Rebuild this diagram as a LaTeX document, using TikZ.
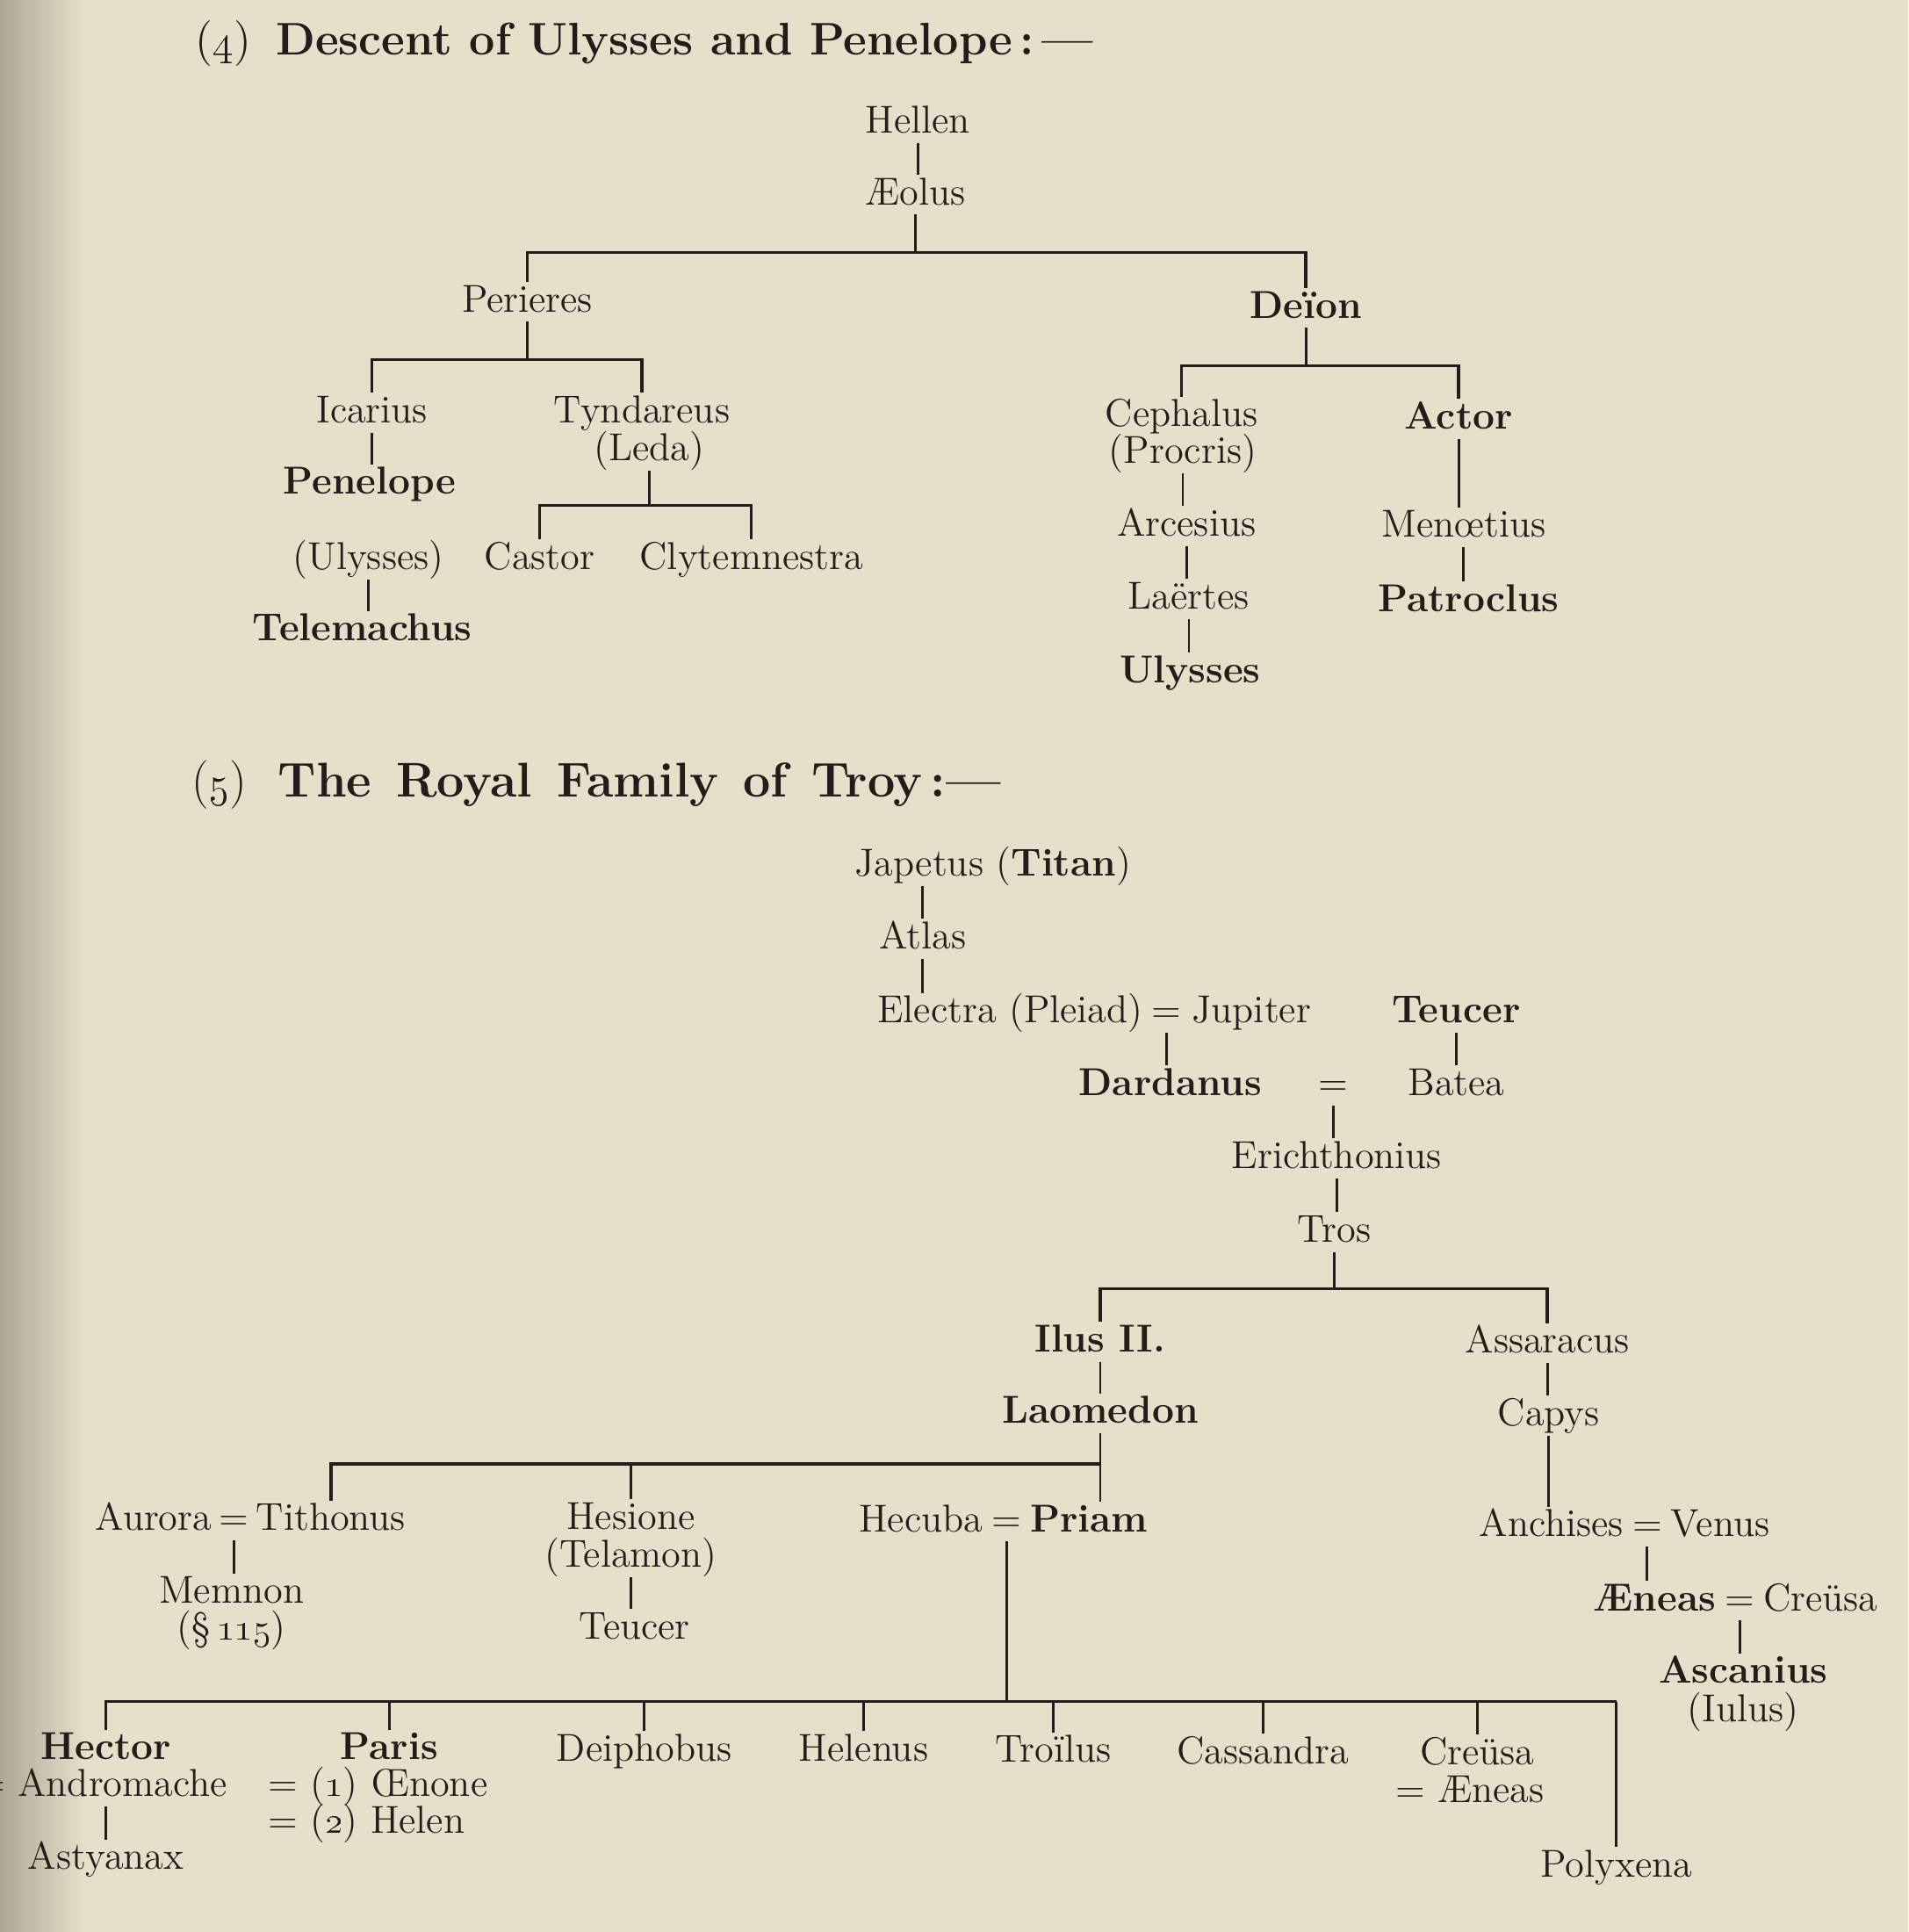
\documentclass[tikz,border=0pt]{standalone}
\usetikzlibrary{positioning}
\definecolor{paper}{RGB}{231,223,201}
\definecolor{ink}{RGB}{34,29,26}

\begin{document}
\begin{tikzpicture}[
  x=0.14029mm, y=-0.14029mm,
  every node/.style={font=\fontsize{12.6pt}{14pt}\selectfont, text=ink},
  person/.style={inner xsep=0pt, inner ysep=0.5pt, text height=9pt, text depth=2.5pt},
  chief/.style={person, font=\fontsize{12.6pt}{14pt}\selectfont\bfseries},
  wed/.style={person},
  heading/.style={anchor=west, inner sep=0pt, font=\fontsize{14.8pt}{16pt}\selectfont},
  kin/.style={draw=ink, line width=0.8pt},
  bar/.style={draw=ink, line width=1pt}
]
  % page
  \fill[paper] (0,0) rectangle (1549,1568);
  \shade[left color=black!25!paper, right color=paper] (0,0) rectangle (70,1568);
  \useasboundingbox (0,0) rectangle (1549,1568);

  % (4) Descent of Ulysses and Penelope
  \node[heading] (t4) at (158,35) {(\oldstylenums{4})\hspace{8pt}\textbf{Descent of Ulysses and Penelope\,:\,—}};

  \node[person] (hellen) at (745,100) {Hellen};
  \node[person] (aeolus) at (743,158) {Æolus};
  \node[person] (perieres) at (428,245) {Perieres};
  \node[chief] (deion) at (1060,250) {Deïon};

  \node[person] (icarius) at (302,335) {Icarius};
  \node[chief] (penelope) at (300,393) {Penelope};
  \node[person] (ulyssesp) at (299,454) {(Ulysses)};
  \node[chief] (telemachus) at (294,512) {Telemachus};
  \node[person] (tyndareus) at (521,335) {Tyndareus};
  \node[person] (leda) at (527,366) {(Leda)};
  \node[person] (castor) at (438,454) {Castor};
  \node[person] (clytemnestra) at (610,454) {Clytemnestra};

  \node[person] (cephalus) at (959,338) {Cephalus};
  \node[person] (procris) at (960,368) {(Procris)};
  \node[person] (arcesius) at (963,427) {Arcesius};
  \node[person] (laertes) at (965,486) {Laërtes};
  \node[chief] (ulysses) at (966,546) {Ulysses};
  \node[chief] (actor) at (1184,340) {Actor};
  \node[person] (menoetius) at (1188,428) {Menœtius};
  \node[chief] (patroclus) at (1192,488) {Patroclus};

  \coordinate (b41) at (0,205);
  \coordinate (b42) at (0,292);
  \coordinate (b43) at (0,410);
  \coordinate (b44) at (0,297);

  \draw[kin] (hellen.south) -- (hellen.south |- aeolus.north);
  \draw[kin] (aeolus.south) -- (aeolus.south |- b41);
  \draw[bar] (perieres.north) -- (perieres.north |- b41) -- (deion.north |- b41) -- (deion.north);
  \draw[kin] (perieres.south) -- (perieres.south |- b42);
  \draw[bar] (icarius.north) -- (icarius.north |- b42) -- (tyndareus.north |- b42) -- (tyndareus.north);
  \draw[kin] (icarius.south) -- (icarius.south |- penelope.north);
  \draw[kin] (ulyssesp.south) -- (ulyssesp.south |- telemachus.north);
  \draw[kin] (leda.south) -- (leda.south |- b43);
  \draw[kin] (castor.north) -- (castor.north |- b43) -- (clytemnestra.north |- b43) -- (clytemnestra.north);
  \draw[kin] (deion.south) -- (deion.south |- b44);
  \draw[bar] (cephalus.north) -- (cephalus.north |- b44) -- (actor.north |- b44) -- (actor.north);
  \draw[kin] (procris.south) -- (procris.south |- arcesius.north);
  \draw[kin] (arcesius.south) -- (arcesius.south |- laertes.north);
  \draw[kin] (laertes.south) -- (laertes.south |- ulysses.north);
  \draw[kin] (actor.south) -- (actor.south |- menoetius.north);
  \draw[kin] (menoetius.south) -- (menoetius.south |- patroclus.north);

  % (5) The Royal Family of Troy
  \node[heading, font=\fontsize{15.8pt}{17pt}\selectfont] (t5) at (155,637)
    {(\oldstylenums{5})\hspace{10pt}\textbf{\spaceskip=0.5em\relax The Royal Family of Troy\,:—}};

  \node[person] (japetus) at (806,703) {Japetus (\textbf{Titan})};
  \node[person] (atlas) at (749,762) {Atlas};
  \node[wed] (ej) at (947,822) {=};
  \node[person, left=2.5pt of ej] (electra) {Electra (Pleiad)};
  \node[person, right=3pt of ej] (jupiter) {Jupiter};
  \node[chief] (teucer) at (1182,822) {Teucer};
  \node[chief] (dardanus) at (950,881) {Dardanus};
  \node[wed] (db) at (1082,881) {=};
  \node[person] (batea) at (1182,881) {Batea};
  \node[person] (erichthonius) at (1085,940) {Erichthonius};
  \node[person] (tros) at (1083,1000) {Tros};
  \node[chief] (ilus) at (893,1089) {Ilus II.};
  \node[chief] (laomedon) at (893,1147) {Laomedon};
  \node[person] (assaracus) at (1256,1090) {Assaracus};
  \node[person] (capys) at (1257,1149) {Capys};

  \node[wed] (at) at (190,1234) {=};
  \node[person, left=2pt of at] (aurora) {Aurora};
  \node[person, right=2pt of at] (tithonus) {Tithonus};
  \node[person] (memnon) at (188,1293) {Memnon};
  \node[person] (s115) at (188,1323) {(§\,\oldstylenums{115})};
  \node[person] (hesione) at (512,1233) {Hesione};
  \node[person] (telamon) at (512,1264) {(Telamon)};
  \node[person] (teucerb) at (515,1322) {Teucer};
  \node[wed] (hp) at (817,1235) {=};
  \node[person, left=2.5pt of hp] (hecuba) {Hecuba};
  \node[chief, right=2.5pt of hp] (priam) {Priam};

  \node[wed] (av) at (1337,1239) {=};
  \node[person, left=2.5pt of av] (anchises) {Anchises};
  \node[person, right=2.5pt of av] (venus) {Venus};
  \node[wed] (ac) at (1412,1299) {=};
  \node[chief, left=2.5pt of ac] (aeneas) {Æneas};
  \node[person, right=2.5pt of ac] (creusa) {Creüsa};
  \node[chief] (ascanius) at (1415,1358) {Ascanius};
  \node[person] (iulus) at (1415,1389) {(Iulus)};

  \node[chief] (hector) at (86,1420) {Hector};
  \node[person, anchor=east] (andromache) at (185,1450) {= Andromache};
  \node[person] (astyanax) at (86,1509) {Astyanax};
  \node[chief] (paris) at (316,1420) {Paris};
  \node[person, anchor=west] (oenone) at (217,1450) {= (\oldstylenums{1}) Œnone};
  \node[person, anchor=west] (helen) at (217,1480) {= (\oldstylenums{2}) Helen};
  \node[person] (deiphobus) at (523,1421) {Deiphobus};
  \node[person] (helenus) at (701,1421) {Helenus};
  \node[person] (troilus) at (855,1422) {Troïlus};
  \node[person] (cassandra) at (1025,1423) {Cassandra};
  \node[person] (creusab) at (1199,1424) {Creüsa};
  \node[person] (weds) at (1193,1455) {= Æneas};
  \node[person] (polyxena) at (1312,1515) {Polyxena};

  \coordinate (b51) at (0,1046);
  \coordinate (b52) at (0,1188);
  \coordinate (b53) at (0,1381);

  \draw[kin] (atlas.north |- japetus.south) -- (atlas.north);
  \draw[kin] (atlas.south) -- (atlas.south |- electra.north);
  \draw[kin] (ej.south) -- (ej.south |- dardanus.north);
  \draw[kin] (teucer.south) -- (teucer.south |- batea.north);
  \draw[kin] (db.south) -- (db.south |- erichthonius.north);
  \draw[kin] (erichthonius.south) -- (erichthonius.south |- tros.north);
  \draw[kin] (tros.south) -- (tros.south |- b51);
  \draw[bar] (ilus.north) -- (ilus.north |- b51) -- (assaracus.north |- b51) -- (assaracus.north);
  \draw[kin] (ilus.south) -- (ilus.south |- laomedon.north);
  \draw[kin] (assaracus.south) -- (assaracus.south |- capys.north);
  \draw[kin] (capys.south) -- (capys.south |- anchises.north);
  \draw[kin] (laomedon.south) -- (laomedon.south |- priam.north);
  \draw[bar] (tithonus.north) -- (tithonus.north |- b52) -- (laomedon.south |- b52);
  \draw[kin] (hesione.north) -- (hesione.north |- b52);
  \draw[kin] (at.south) -- (at.south |- memnon.north);
  \draw[kin] (telamon.south) -- (telamon.south |- teucerb.north);
  \draw[kin] (av.south) -- (av.south |- aeneas.north);
  \draw[kin] (ac.south) -- (ac.south |- ascanius.north);

  \draw[kin] (hp.south) -- (hp.south |- b53);
  \draw[bar] (hector.north) -- (hector.north |- b53) -- (polyxena.north |- b53);
  \draw[kin] (polyxena.north |- b53) -- (polyxena.north);
  \foreach \kid in {paris, deiphobus, helenus, troilus, cassandra, creusab}
    \draw[kin] (\kid.north |- b53) -- (\kid.north);
  \draw[kin] (astyanax.north |- andromache.south) -- (astyanax.north);
\end{tikzpicture}
\end{document}
